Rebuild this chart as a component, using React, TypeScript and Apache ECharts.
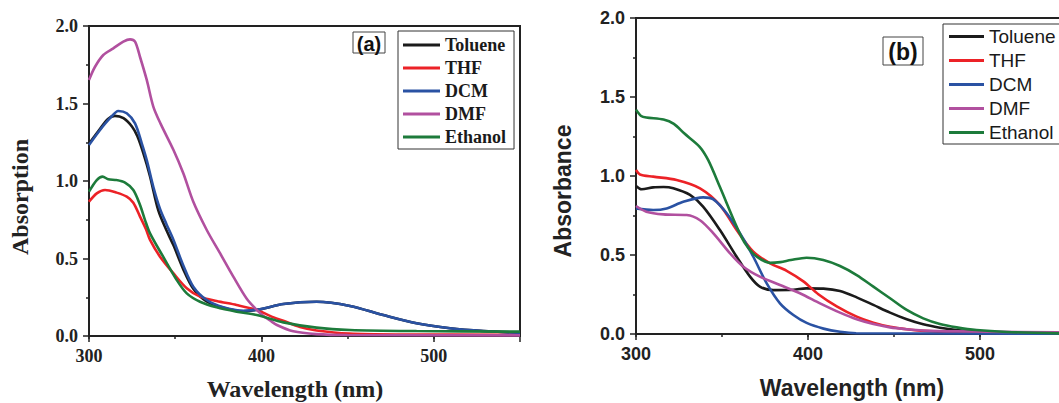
import React, { useEffect, useRef } from 'react';
import * as echarts from 'echarts';

const seriesNames = ['Toluene', 'THF', 'DCM', 'DMF', 'Ethanol'];
const seriesColors = ['#1b1b1b', '#ec2227', '#2a52a3', '#b1509f', '#1d7b3b'];

// Panel (a): wavelength (nm), absorption
const tolueneA = [
  [300, 1.24], [306, 1.33], [311, 1.4], [315, 1.42], [320, 1.405], [325, 1.35], [328, 1.29],
  [331.5, 1.18], [335.4, 1.03], [340.2, 0.81], [345, 0.68], [349, 0.585], [354.7, 0.43],
  [360.5, 0.305], [368, 0.225], [378, 0.182], [389.5, 0.16], [399.2, 0.172], [412.7, 0.206],
  [432, 0.221], [451.4, 0.194], [470.7, 0.135], [490, 0.082], [509.4, 0.05], [528.7, 0.032], [550, 0.021],
];
const thfA = [
  [300, 0.866], [304.5, 0.92], [309.3, 0.942], [316, 0.925], [321.9, 0.899], [325.7, 0.86],
  [329.6, 0.77], [333, 0.69], [335.4, 0.62], [341.2, 0.512], [349, 0.404], [356.7, 0.308],
  [364.4, 0.254], [374, 0.226], [385.6, 0.2], [397.3, 0.168], [405, 0.13], [412.7, 0.098],
  [422.4, 0.058], [432, 0.036], [451, 0.016], [480, 0.01], [550, 0.008],
];
const dcmA = [
  [300, 1.232], [306.4, 1.329], [312.2, 1.405], [317, 1.452], [321.9, 1.437], [326.7, 1.372],
  [330.6, 1.243], [333.5, 1.135], [337.3, 0.963], [341.2, 0.82], [345, 0.72], [349, 0.62], [354.7, 0.455],
  [360.5, 0.318], [368.3, 0.232], [377.9, 0.185], [389.5, 0.163], [399.2, 0.172], [412.7, 0.206],
  [432, 0.221], [451.4, 0.194], [470.7, 0.135], [490, 0.082], [509.4, 0.05], [528.7, 0.032], [550, 0.021],
];
const dmfA = [
  [300, 1.652], [303.5, 1.737], [308.3, 1.813], [314.1, 1.856], [319.9, 1.899], [323.8, 1.914],
  [326.7, 1.899], [329.6, 1.8], [333.5, 1.652], [337.3, 1.48], [341.5, 1.37], [349, 1.2],
  [354.7, 1.05], [360.5, 0.866], [368.3, 0.684], [376, 0.534], [383.7, 0.383], [391.5, 0.24],
  [397.3, 0.168], [401, 0.13], [405, 0.1], [409, 0.071], [418.5, 0.03], [432, 0.012], [450, 0.006], [550, 0.004],
];
const ethanolA = [
  [300, 0.931], [304.5, 1.006], [307.9, 1.028], [311.2, 1.011], [316, 1.006], [320.9, 0.989],
  [325.7, 0.942], [329.6, 0.845], [332.5, 0.748], [335.4, 0.662], [343, 0.512], [350.9, 0.361],
  [356.7, 0.275], [364.4, 0.221], [374, 0.185], [385.6, 0.157], [397.3, 0.135], [412.7, 0.088],
  [432, 0.054], [451.4, 0.039], [490, 0.032], [550, 0.028],
];

// Panel (b): wavelength (nm), absorbance
const tolueneB = [
  [300, 0.937], [303.3, 0.916], [310, 0.928], [316, 0.93], [321.7, 0.922], [331.4, 0.88],
  [339, 0.806], [348.8, 0.658], [358.5, 0.489], [366.3, 0.363], [372, 0.3], [379.8, 0.278],
  [391.5, 0.28], [399, 0.289], [409, 0.287], [418.6, 0.272], [428.3, 0.232], [438, 0.184],
  [447.7, 0.135], [457.4, 0.093], [467, 0.061], [476.7, 0.04], [486.4, 0.025], [498, 0.015],
  [515, 0.008], [550, 0.004],
];
const thfB = [
  [300, 1.038], [302.3, 1.01], [310, 0.996], [323.6, 0.975], [337.2, 0.922], [348.8, 0.816],
  [358.5, 0.658], [368.2, 0.521], [378, 0.447], [387.6, 0.4], [397.3, 0.333], [406, 0.252],
  [416.7, 0.175], [428.3, 0.11], [438, 0.072], [447.7, 0.046], [457.4, 0.03], [467, 0.02],
  [486, 0.01], [550, 0.005],
];
const dcmB = [
  [300, 0.795], [310, 0.785], [317.8, 0.795], [327.5, 0.837], [339, 0.865], [345, 0.852],
  [352.7, 0.764], [360.5, 0.637], [368.2, 0.489], [376, 0.32], [383.7, 0.194], [391.5, 0.12],
  [399.2, 0.07], [409, 0.034], [418.6, 0.014], [428, 0.005], [550, 0.002],
];
const dmfB = [
  [300, 0.81], [306, 0.774], [315.9, 0.757], [329.5, 0.753], [337.2, 0.72], [345, 0.637],
  [354.7, 0.51], [362.4, 0.426], [372, 0.363], [383.7, 0.31], [395.3, 0.258], [407, 0.194],
  [418.6, 0.135], [428.3, 0.093], [438, 0.063], [447.7, 0.042], [457.4, 0.03], [467, 0.022],
  [486, 0.017], [550, 0.01],
];
const ethanolB = [
  [300, 1.42], [303, 1.38], [306, 1.37], [316, 1.357], [322, 1.33], [328, 1.27], [337, 1.185],
  [342, 1.1], [348.8, 0.93], [358.5, 0.68], [363, 0.58], [368, 0.51], [373, 0.47], [378, 0.45],
  [384, 0.455], [390, 0.468], [399.2, 0.483], [408.9, 0.468], [418.6, 0.43], [428.3, 0.373],
  [438, 0.3], [447.7, 0.226], [457.4, 0.152], [467, 0.099], [476.7, 0.063], [486.4, 0.042],
  [498, 0.025], [515.5, 0.013], [546, 0.004],
];

const panelAData = [tolueneA, thfA, dcmA, dmfA, ethanolA];
const panelBData = [tolueneB, thfB, dcmB, dmfB, ethanolB];

const serif = '"Liberation Serif", "Times New Roman", serif';
const sans = '"Liberation Sans", Arial, sans-serif';
const ink = '#222';

function xAxes(gridIndex: number, font: string) {
  return [
    {
      type: 'value', gridIndex, min: 300, max: 550, interval: 50, position: 'bottom',
      axisLine: { show: true, onZero: false, lineStyle: { color: ink, width: 2 } },
      axisTick: { show: true, length: 3, lineStyle: { color: ink, width: 1.5 } },
      axisLabel: {
        margin: 11, fontFamily: font, fontWeight: 'bold', fontSize: 18, color: ink,
        showMaxLabel: false,
        formatter: (v: number) => (v % 100 === 0 ? String(v) : ''),
      },
      splitLine: { show: false },
    },
    {
      type: 'value', gridIndex, min: 300, max: 550, interval: 100, position: 'bottom', offset: 0,
      axisLine: { show: false, onZero: false },
      axisTick: { show: true, length: 6, lineStyle: { color: ink, width: 1.5 } },
      axisLabel: { show: false },
      splitLine: { show: false },
    },
  ];
}

function yAxis(gridIndex: number, font: string) {
  return {
    type: 'value', gridIndex, min: 0, max: 2, interval: 0.5,
    axisLine: { show: true, onZero: false, lineStyle: { color: ink, width: 2 } },
    axisTick: { show: true, length: 6, lineStyle: { color: ink, width: 1.5 } },
    minorTick: { show: true, splitNumber: 2, length: 3, lineStyle: { color: ink, width: 1.5 } },
    axisLabel: {
      margin: 11, fontFamily: font, fontWeight: 'bold', fontSize: 18, color: ink,
      formatter: (v: number) => v.toFixed(1),
    },
    splitLine: { show: false },
  };
}

function makeSeries(data: number[][][], xAxisIndex: number, yAxisIndex: number) {
  return data.map((d, i) => ({
    name: seriesNames[i],
    type: 'line',
    xAxisIndex,
    yAxisIndex,
    data: d,
    symbol: 'none',
    showSymbol: false,
    smooth: 0.3,
    clip: true,
    lineStyle: { color: seriesColors[i], width: 2.6 },
    itemStyle: { color: seriesColors[i] },
  }));
}

function legendFor(left: number, top: number, font: string, size: number, weight: string, gap: number, pad: number[], iw: number) {
  return {
    data: seriesNames,
    orient: 'vertical',
    left, top,
    padding: pad,
    icon: 'rect',
    itemWidth: iw,
    itemHeight: 3,
    itemGap: gap,
    borderColor: '#333',
    borderWidth: 1,
    backgroundColor: '#fff',
    selectedMode: false,
    textStyle: { fontFamily: font, fontWeight: weight, fontSize: size, color: '#1a1a1a' },
  };
}

function labelBox(x: number, y: number, w: number, h: number, text: string, size: number) {
  return {
    type: 'group',
    z: 10,
    children: [
      { type: 'rect', shape: { x, y, width: w, height: h }, style: { fill: '#fff', stroke: '#444', lineWidth: 1 } },
      {
        type: 'text', x: x + w / 2, y: y + h / 2 + 1,
        style: {
          text, font: `bold ${size}px ${sans}`, fill: '#111',
          textAlign: 'center', textVerticalAlign: 'middle', align: 'center', verticalAlign: 'middle',
        },
      },
    ],
  };
}

function axisTitle(x: number, y: number, text: string, font: string, size: number, rotate: boolean) {
  return {
    type: 'text', x, y, rotation: rotate ? Math.PI / 2 : 0,
    style: {
      text, font: `bold ${size}px ${font}`, fill: ink,
      textAlign: 'center', textVerticalAlign: 'middle', align: 'center', verticalAlign: 'middle',
    },
  };
}

export default function App() {
  const ref = useRef<HTMLDivElement>(null);
  useEffect(() => {
    if (!ref.current) return;
    const chart = echarts.init(ref.current, null, { renderer: 'svg' });
    const option = {
      animation: false,
      backgroundColor: '#fff',
      grid: [
        { left: 89, top: 26, width: 431, height: 310, show: true, borderColor: ink, borderWidth: 2, containLabel: false },
        { left: 636, top: 18, width: 430, height: 316, show: true, borderColor: ink, borderWidth: 2, containLabel: false },
      ],
      xAxis: [...xAxes(0, serif), ...xAxes(1, sans)],
      yAxis: [yAxis(0, serif), yAxis(1, sans)],
      legend: [
        legendFor(398, 31, serif, 18, 'bold', 5, [5, 8, 3, 5], 37),
        legendFor(943, 24, sans, 19, 'normal', 5, [3, 10, 2, 6], 35),
      ],
      series: [...makeSeries(panelAData, 0, 0), ...makeSeries(panelBData, 2, 1)],
      graphic: [
        labelBox(353, 32, 32, 21, '(a)', 20),
        labelBox(883, 37, 40, 28, '(b)', 23),
        axisTitle(295, 389, 'Wavelength (nm)', serif, 24, false),
        axisTitle(20, 197, 'Absorption', serif, 24, true),
        axisTitle(852, 388, 'Wavelength (nm)', sans, 23, false),
        axisTitle(563, 191, 'Absorbance', sans, 23, true),
      ],
    };
    chart.setOption(option as any);
    return () => chart.dispose();
  }, []);
  return (
    <div style={{ position: 'absolute', left: 0, top: 0, width: 1059, height: 403, overflow: 'hidden', background: '#fff' }}>
      <div ref={ref} style={{ width: 1090, height: 403 }} />
    </div>
  );
}
